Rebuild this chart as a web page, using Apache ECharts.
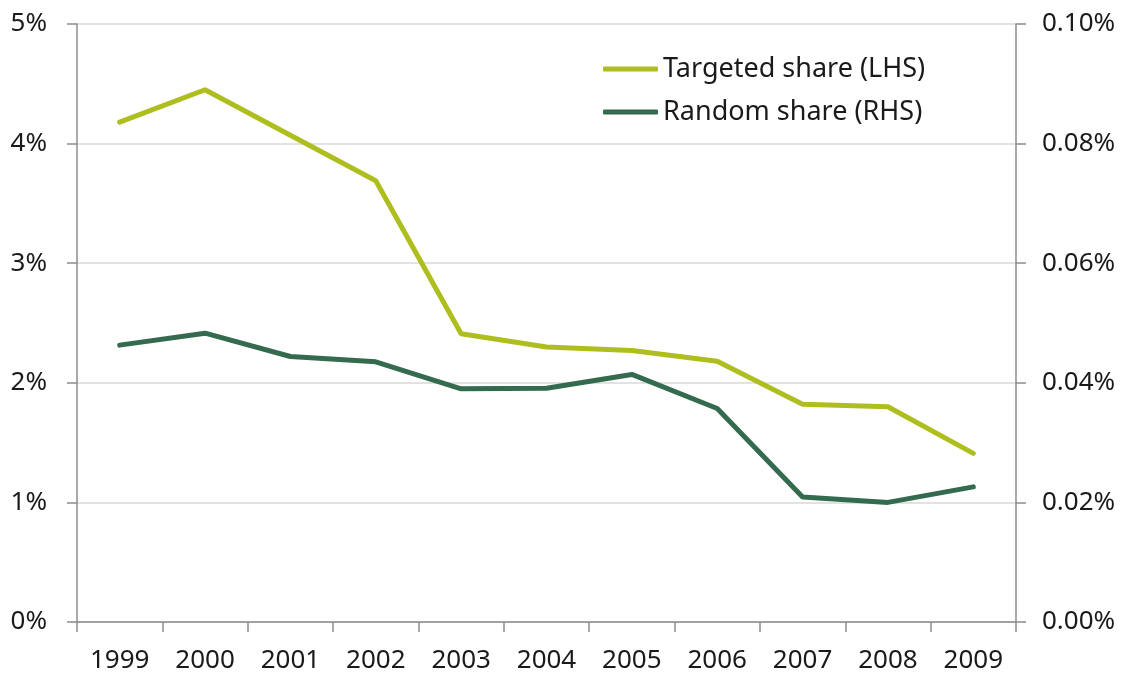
<!DOCTYPE html>
<html>
<head>
<meta charset="utf-8">
<script src="https://cdn.jsdelivr.net/npm/echarts@6/dist/echarts.min.js"></script>
<style>
  html, body { margin: 0; padding: 0; background: #fff; }
  #chart { width: 1124px; height: 674px; }
</style>
</head>
<body>
<div id="chart"></div>
<script>
// 年份
const years = ["1999", "2000", "2001", "2002", "2003", "2004", "2005", "2006", "2007", "2008", "2009"];
// Targeted share (LHS), %
const targetedShare = [4.18, 4.45, 4.07, 3.69, 2.41, 2.30, 2.27, 2.18, 1.82, 1.80, 1.41];
// Random share (RHS), %
const randomShare = [0.0463, 0.0483, 0.0444, 0.0435, 0.0390, 0.0391, 0.0414, 0.0357, 0.0209, 0.0200, 0.0226];
const seriesNames = ["Targeted share (LHS)", "Random share (RHS)"];

const myChart = echarts.init(document.getElementById("chart"));
const axisGrey = "#8c8c8c";
const font = "Noto Sans";
const fs = 26;

const option = {
  animation: false,
  color: ["#AEBE1E", "#346B4F"],
  textStyle: { fontFamily: font },
  grid: { left: 77, right: 108, top: 24, bottom: 50 },
  legend: {
    orient: "vertical",
    left: 603,
    top: 55,
    padding: 0,
    itemWidth: 55,
    itemHeight: 5,
    itemGap: 15,
    icon: "roundRect",
    data: seriesNames,
    textStyle: { fontFamily: font, fontSize: 27, color: "#1a1a1a", lineHeight: 28 },
  },
  xAxis: {
    type: "category",
    boundaryGap: true,
    data: years,
    axisLine: { lineStyle: { color: axisGrey, width: 1.5 } },
    axisTick: { show: true, length: 10, lineStyle: { color: axisGrey, width: 1.5 } },
    axisLabel: { margin: 26, fontSize: fs, color: "#1a1a1a", fontFamily: font },
  },
  yAxis: [
    {
      type: "value",
      min: 0,
      max: 5,
      interval: 1,
      axisLine: { show: true, lineStyle: { color: axisGrey, width: 1.5 } },
      axisTick: { show: true, length: 10, lineStyle: { color: axisGrey, width: 1.5 } },
      splitLine: { lineStyle: { color: "#d9d9d9", width: 1.5 } },
      axisLabel: {
        margin: 30,
        fontSize: fs,
        color: "#1a1a1a",
        fontFamily: font,
        formatter: (v) => v + "%",
      },
    },
    {
      type: "value",
      position: "right",
      min: 0,
      max: 0.1,
      interval: 0.02,
      axisLine: { show: true, lineStyle: { color: axisGrey, width: 1.5 } },
      axisTick: { show: true, length: 10, lineStyle: { color: axisGrey, width: 1.5 } },
      splitLine: { show: false },
      axisLabel: {
        margin: 26,
        fontSize: fs,
        color: "#1a1a1a",
        fontFamily: font,
        formatter: (v) => v.toFixed(2) + "%",
      },
    },
  ],
  series: [
    {
      name: seriesNames[0],
      type: "line",
      yAxisIndex: 0,
      data: targetedShare,
      showSymbol: false,
      lineStyle: { width: 5, cap: "round" },
    },
    {
      name: seriesNames[1],
      type: "line",
      yAxisIndex: 1,
      data: randomShare,
      showSymbol: false,
      lineStyle: { width: 5, cap: "round" },
    },
  ],
};
myChart.setOption(option);
</script>
</body>
</html>
